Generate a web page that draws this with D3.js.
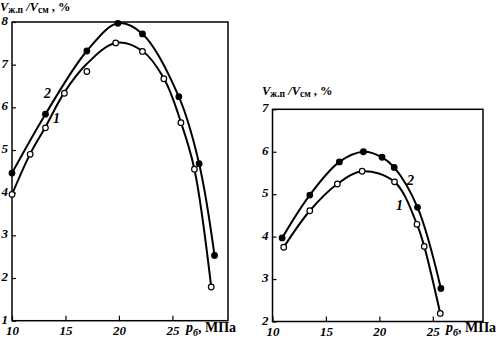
<!DOCTYPE html>
<html><head><meta charset="utf-8">
<script src="https://cdn.jsdelivr.net/npm/d3@7"></script>
<style>
body{margin:0;background:#fff}
svg{display:block}
text{font-family:"Liberation Serif","DejaVu Serif",serif;font-weight:bold;fill:#000}
</style></head><body>
<script>
// ---- data ----
const xTicks = [10, 15, 20, 25];
const yTicksLeft = [1, 2, 3, 4, 5, 6, 7, 8];
const yTicksRight = [2, 3, 4, 5, 6, 7];

// left panel, curve 1 (open) markers and the drawn fit line
const leftP1   = [10, 11.7, 13.13, 14.9, 17, 19.7, 22.2, 24.2, 25.8, 27.06, 28.63];
const leftV1   = [3.96, 4.90, 5.52, 6.33, 6.84, 7.51, 7.31, 6.67, 5.64, 4.55, 1.79];
const leftFit1 = [3.96, 4.91, 5.54, 6.35, 7.02, 7.51, 7.32, 6.68, 5.65, 4.55, 1.79];
// left panel, curve 2 (filled)
const leftP2 = [10, 13.13, 17, 19.9, 22.2, 25.6, 27.5, 28.94];
const leftV2 = [4.46, 5.84, 7.32, 7.97, 7.72, 6.25, 4.68, 2.53];

// right panel, curve 1 (open)
const rightP1 = [11.05, 13.49, 16.07, 18.39, 21.42, 23.52, 24.2, 25.7];
const rightV1 = [3.75, 4.61, 5.24, 5.54, 5.29, 4.29, 3.77, 2.19];
// right panel, curve 2 (filled)
const rightP2 = [10.9, 13.49, 16.26, 18.51, 20.25, 21.39, 23.57, 25.76];
const rightV2 = [3.97, 4.98, 5.76, 6.0, 5.87, 5.63, 4.69, 2.78];

const W = 499, H = 344;
const svg = d3.select("body").append("svg").attr("width", W).attr("height", H);

function panel(cfg) {
  const x = d3.scaleLinear().domain(cfg.xDomain).range(cfg.xRange);
  const y = d3.scaleLinear().domain(cfg.yDomain).range(cfg.yRange);
  const g = svg.append("g");
  // frame
  g.append("rect")
    .attr("x", cfg.xRange[0]).attr("y", cfg.yRange[1])
    .attr("width", cfg.xRange[1] - cfg.xRange[0])
    .attr("height", cfg.yRange[0] - cfg.yRange[1])
    .attr("fill", "none").attr("stroke", "#000").attr("stroke-width", 1.5);
  // x axis (inward ticks)
  const xa = g.append("g").attr("transform", `translate(0,${cfg.yRange[0]})`)
    .call(d3.axisBottom(x).tickValues(xTicks).tickSizeInner(-5).tickSizeOuter(0).tickFormat(d3.format("d")));
  xa.select(".domain").remove();
  xa.selectAll(".tick line").attr("stroke-width", 1.2);
  xa.selectAll(".tick text").attr("font-size", 13).attr("font-style", "italic")
    .attr("font-family", "Liberation Serif").attr("font-weight", "bold").attr("y", 5).attr("dy", "0.71em");
  // y axis (inward ticks)
  const ya = g.append("g").attr("transform", `translate(${cfg.xRange[0]},0)`)
    .call(d3.axisLeft(y).tickValues(cfg.yTicks).tickSizeInner(-4).tickSizeOuter(0).tickFormat(d3.format("d")));
  ya.select(".domain").remove();
  ya.selectAll(".tick line").attr("stroke-width", 1.2);
  ya.selectAll(".tick text").attr("font-size", 13).attr("font-style", "italic")
    .attr("font-family", "Liberation Serif").attr("font-weight", "bold").attr("x", -4).attr("dy", "0.2em");

  const line = d3.line().x(d => x(d[0])).y(d => y(d[1])).curve(d3.curveCatmullRom.alpha(0.5));
  cfg.series.forEach(s => {
    const lineData = s.p.map((p, i) => [p, s.fit ? s.fit[i] : s.v[i]]);
    g.append("path").attr("d", line(lineData)).attr("fill", "none")
      .attr("stroke", "#000").attr("stroke-width", 2);
  });
  cfg.series.forEach(s => {
    g.selectAll(null).data(s.p.map((p, i) => [p, s.v[i]])).join("circle")
      .attr("cx", d => x(d[0])).attr("cy", d => y(d[1])).attr("r", 2.8)
      .attr("fill", s.filled ? "#000" : "#fff").attr("stroke", "#000").attr("stroke-width", 1.2);
  });
  // curve numbers
  cfg.labels.forEach(l => {
    g.append("text").attr("x", l.x).attr("y", l.y).attr("font-size", 14)
      .attr("font-style", "italic").text(l.t);
  });
  // y title
  const t = g.append("text").attr("x", cfg.title[0]).attr("y", cfg.title[1]).attr("font-size", 12.5);
  t.append("tspan").attr("font-style", "italic").text("V");
  t.append("tspan").attr("font-size", 9.5).attr("dy", 2).text("ж.п");
  t.append("tspan").attr("dy", -2).attr("font-style", "italic").text(" /V");
  t.append("tspan").attr("font-size", 9.5).attr("dy", 2).text("см");
  t.append("tspan").attr("dy", -2).text(" , %");
  // x title
  const xt = g.append("text").attr("x", cfg.xTitle[0]).attr("y", cfg.xTitle[1]).attr("font-size", 14);
  xt.append("tspan").attr("font-style", "italic").text("p");
  xt.append("tspan").attr("font-style", "italic").attr("font-size", 10).attr("dy", 4).text("б");
  xt.append("tspan").attr("dy", -4).text(", МПа");
}

panel({
  xDomain: [10, 30.2], xRange: [12, 228],
  yDomain: [1, 8], yRange: [320.7, 22],
  yTicks: yTicksLeft,
  series: [
    { p: leftP1, v: leftV1, fit: leftFit1, filled: false },
    { p: leftP2, v: leftV2, filled: true }
  ],
  labels: [{ x: 44, y: 98, t: "2" }, { x: 53, y: 123, t: "1" }],
  title: [0, 11],
  xTitle: [186, 332]
});

panel({
  xDomain: [10, 29.7], xRange: [272.5, 483],
  yDomain: [2, 7], yRange: [321.5, 109.3],
  yTicks: yTicksRight,
  series: [
    { p: rightP1, v: rightV1, filled: false },
    { p: rightP2, v: rightV2, filled: true }
  ],
  labels: [{ x: 407, y: 185, t: "2" }, { x: 396, y: 210, t: "1" }],
  title: [262, 95],
  xTitle: [446, 332]
});
</script>
</body></html>
